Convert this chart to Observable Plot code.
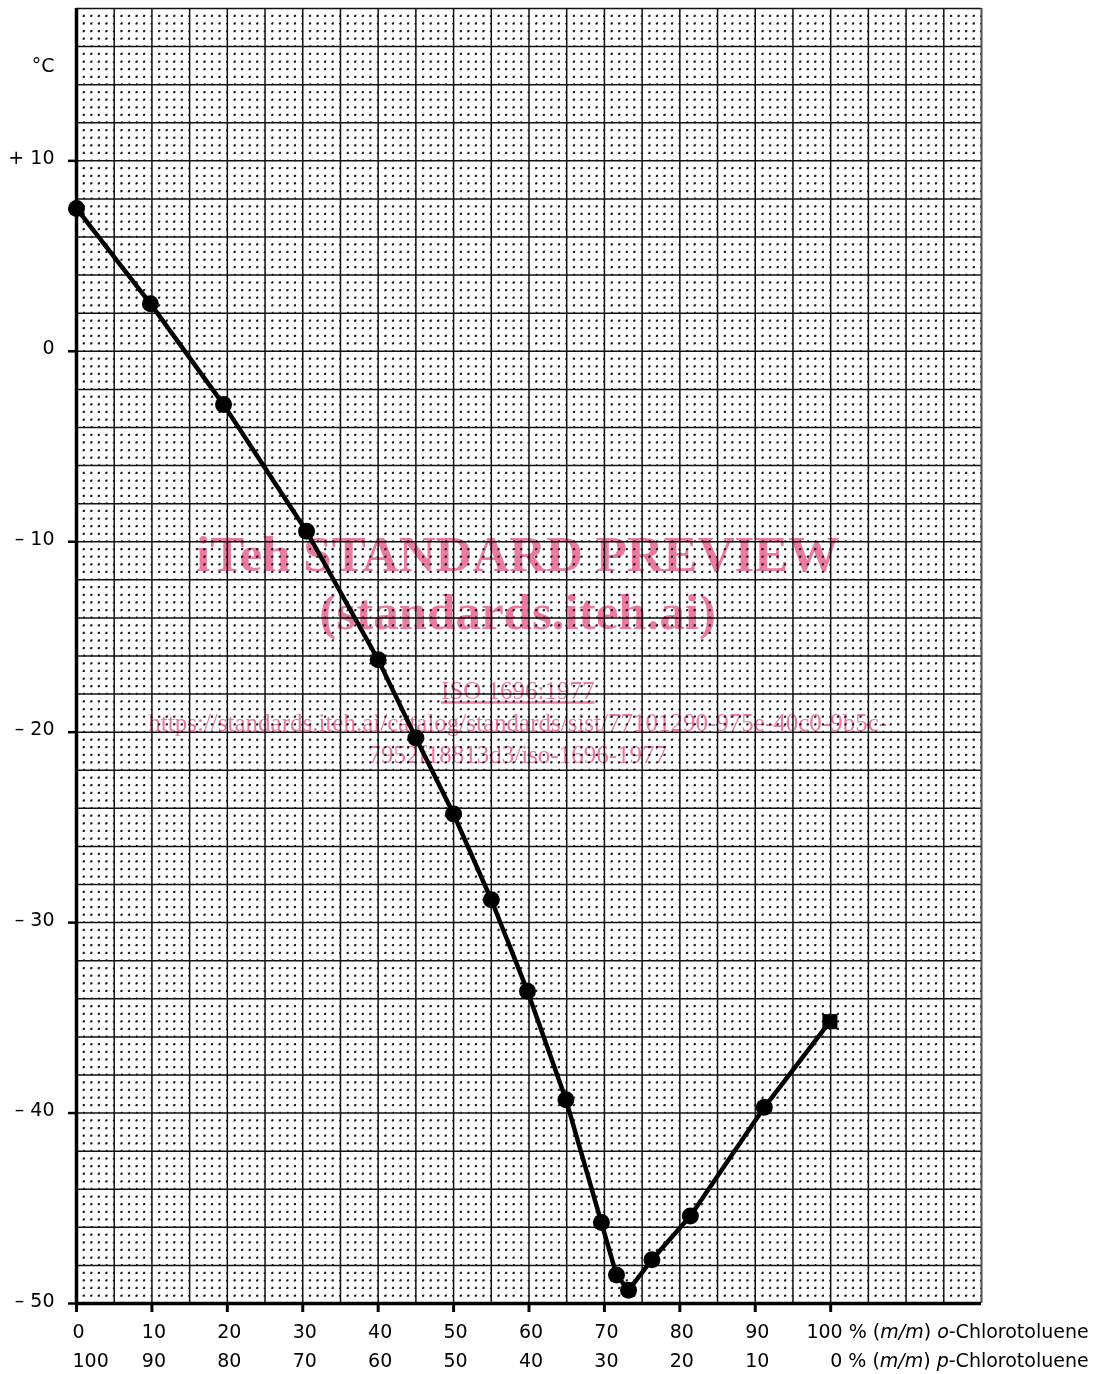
<!DOCTYPE html>
<html><head><meta charset="utf-8">
<script src="https://cdn.jsdelivr.net/npm/d3@7"></script>
<script src="https://cdn.jsdelivr.net/npm/@observablehq/plot@0.6"></script>
<style>body{margin:0;background:#fff} svg{display:block}</style>
</head><body><div id="chart"></div>
<script>
// o-Chlorotoluene content, % (m/m)
const oChloro = [0, 9.8, 19.5, 30.5, 40, 45, 50, 55, 59.8, 64.9, 69.6, 71.6, 73.2, 76.3, 81.4, 91.2, 99.9];
// freezing point, °C
const freezing = [7.5, 2.5, -2.8, -9.45, -16.2, -20.3, -24.3, -28.8, -33.6, -39.3, -45.75, -48.5, -49.3, -47.7, -45.4, -39.7, -35.2];

const xTicks = [0, 10, 20, 30, 40, 50, 60, 70, 80, 90, 100];
const xLabelsTop = ["0", "10", "20", "30", "40", "50", "60", "70", "80", "90", "100 % (m/m) o-Chlorotoluene"];
const xLabelsBottom = ["100", "90", "80", "70", "60", "50", "40", "30", "20", "10", "0 % (m/m) p-Chlorotoluene"];
const yTicks = [10, 0, -10, -20, -30, -40, -50];
const yLabels = ["+ 10", "0", "– 10", "– 20", "– 30", "– 40", "– 50"];
const unitLabel = "°C";

const wmBig = ["iTeh STANDARD PREVIEW", "(standards.iteh.ai)"];
const wmBigY = [-10.66, -13.75];
const wmSmall = ["ISO 1696:1977", "https://standards.iteh.ai/catalog/standards/sist/77101290-975e-40c0-9b5c-", "7952f18813d3/iso-1696-1977"];
const wmSmallY = [-17.85, -19.52, -21.2];
const wmX = 58.5;

const W = 1097, H = 1374, mL = 76, mR = 116, mT = 8, mB = 71;
const xDom = [0, 120], yDom = [-50, 18];
const pxX = (W - mL - mR) / (xDom[1] - xDom[0]);
const pxY = (H - mT - mB) / (yDom[1] - yDom[0]);

const xMajor = d3.range(0, 121, 5);
const xMinor = d3.range(0, 121).filter(v => v % 5 !== 0);
const yMajor = d3.range(-50, 19, 2);
const yMinor = d3.range(-125, 46).filter(k => k % 5 !== 0).map(k => k * 0.4);

const pts = oChloro.map((x, i) => ({x, y: freezing[i]}));
const ptsRound = pts.slice(0, -1);
const ptsLast = pts.slice(-1);

const topMid = xTicks.map((x, i) => ({x, t: xLabelsTop[i]})).filter(d => d.x !== 100);
const botMid = xTicks.map((x, i) => ({x, t: xLabelsBottom[i]})).filter(d => d.x !== 100 && d.x !== 0);
const botFirst = [{x: 0, t: xLabelsBottom[0]}];
const lastCol = [{x: 100, t: xLabelsTop[10]}, {x: 100, t: xLabelsBottom[10]}];

const dot = 1.8;
const fs = 19;
const fontAx = "DejaVu Sans";
const svg = Plot.plot({
  width: W, height: H, marginLeft: mL, marginRight: mR, marginTop: mT, marginBottom: mB,
  x: {domain: xDom}, y: {domain: yDom},
  style: {fontFamily: fontAx, fontSize: fs + "px", background: "#fff", overflow: "visible", color: "#000"},
  marks: [
    Plot.ruleY(yMinor, {stroke: "#1a1a1a", strokeWidth: 1.7, strokeDasharray: `${dot},${pxX - dot}`, strokeDashoffset: dot / 2}),
    Plot.ruleX(xMinor, {stroke: "#1a1a1a", strokeWidth: 1.7, strokeDasharray: `${dot},${pxY * 0.4 - dot}`, strokeDashoffset: dot / 2}),
    Plot.ruleX(xMajor, {stroke: "#111", strokeWidth: 1.5}),
    Plot.ruleY(yMajor, {stroke: "#111", strokeWidth: 1.5}),
    Plot.ruleX([120], {stroke: "#555", strokeWidth: 1.6}),
    Plot.ruleX([0], {stroke: "#000", strokeWidth: 3.5}),
    Plot.ruleY([-50], {stroke: "#000", strokeWidth: 3.5}),
    Plot.axisY({ticks: yTicks, tickSize: 8, tickFormat: () => "", strokeWidth: 2.5, label: null}),
    Plot.axisX({ticks: xTicks, tickSize: 9, tickFormat: () => "", strokeWidth: 3, label: null}),
    Plot.text(yTicks, {y: d => d, frameAnchor: "left", text: (d, i) => yLabels[i], textAnchor: "end", dx: -22, dy: -3, fontSize: fs}),
    Plot.text([unitLabel], {y: 15, frameAnchor: "left", text: d => d, textAnchor: "end", dx: -22, fontSize: fs}),
    Plot.text(topMid, {x: "x", y: -50, text: "t", dy: 28, dx: 2, fontSize: fs}),
    Plot.text(botMid, {x: "x", y: -50, text: "t", dy: 57, dx: 2, fontSize: fs}),
    Plot.text(botFirst, {x: "x", y: -50, text: "t", dy: 57, dx: -4, textAnchor: "start", fontSize: fs}),
    Plot.text(lastCol.slice(0, 1), {x: "x", y: -50, text: "t", dy: 28, dx: 258, textAnchor: "end", fontSize: fs}),
    Plot.text(lastCol.slice(1), {x: "x", y: -50, text: "t", dy: 57, dx: 258, textAnchor: "end", fontSize: fs}),
    Plot.line(pts, {x: "x", y: "y", stroke: "#000", strokeWidth: 4.5, strokeLinejoin: "round"}),
    Plot.dot(ptsRound, {x: "x", y: "y", r: 8.5, fill: "#000"}),
    Plot.dot(ptsLast, {x: "x", y: "y", r: 8.5, fill: "#000", symbol: "square"}),
    Plot.text(wmBig, {x: wmX, y: (d, i) => wmBigY[i], text: d => d, fontFamily: "Liberation Serif", fontWeight: "bold", fontSize: 51, fill: "#ea7aa0", mixBlendMode: "multiply"}),
    Plot.text(wmSmall, {x: wmX, y: (d, i) => wmSmallY[i], text: d => d, fontFamily: "Liberation Serif", fontSize: 25, fill: "#ea7aa0", mixBlendMode: "multiply"})
  ]
});

// mixed italics in the composition labels, underline in the watermark
d3.select(svg).selectAll("text").each(function() {
  const t = this.textContent;
  if (t.includes("(m/m)")) {
    const parts = t.split(/(m\/m|\b[op](?=-))/);
    const el = d3.select(this);
    el.text(null);
    parts.forEach(p => {
      if (!p) return;
      const ts = el.append("tspan").text(p);
      if (/^(m\/m|[op])$/.test(p)) ts.attr("font-style", "italic");
    });
  }
  if (t === "ISO 1696:1977") d3.select(this).style("text-decoration", "underline");
});

document.getElementById("chart").appendChild(svg);
</script></body></html>
